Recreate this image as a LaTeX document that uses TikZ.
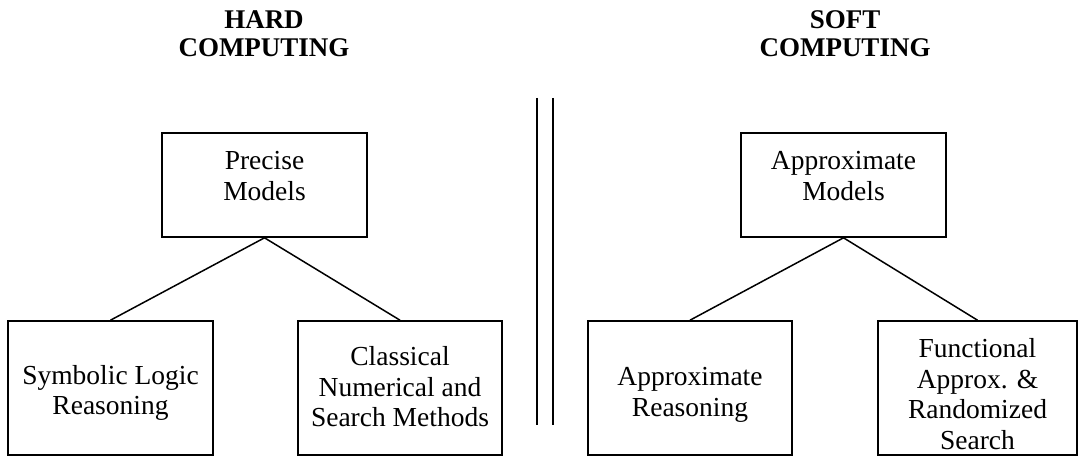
\documentclass[tikz,border=0pt]{standalone}
\usepackage{fontspec}
\setmainfont{Liberation Serif}
\begin{document}
\begin{tikzpicture}[x=1pt,y=-1pt,
  box/.style={draw, line width=1.6pt, inner sep=0pt, minimum width=#1},
  box/.default=205pt,
  txt/.style={align=center, inner sep=0pt, font=\fontsize{27.5}{30.5}\selectfont},
  ttl/.style={align=center, inner sep=0pt, font=\fontsize{27}{28}\selectfont\bfseries},
  link/.style={line width=1.5pt},
  sep/.style={line width=1.5pt}]
\useasboundingbox (0,0) rectangle (1078,457);
% titles
\node[ttl] (hard) at (264,34) {HARD\\COMPUTING};
\node[ttl] (soft) at (845,34) {SOFT\\COMPUTING};
% separator
\coordinate (s1t) at (537,98); \coordinate (s1b) at (537,425);
\coordinate (s2t) at (553,98); \coordinate (s2b) at (553,425);
\draw[sep] (s1t) -- (s1b);
\draw[sep] (s2t) -- (s2b);
% top boxes
\node[box, minimum height=104pt] (pm) at (264.5,185) {};
\node[txt, yshift=9pt] (pmt) at (pm.center) {Precise\\Models};
\node[box, minimum height=104pt] (am) at (843.5,185) {};
\node[txt, yshift=9pt] (amt) at (am.center) {Approximate\\Models};
% bottom boxes
\node[box, minimum height=134pt] (sl) at (110.5,388) {};
\node[txt, yshift=-5pt] (slt) at (sl.center) {Symbolic Logic\\Reasoning};
\node[box=204pt, minimum height=134pt] (cn) at (400,388) {};
\node[txt, yshift=1pt] (cnt) at (cn.center) {Classical\\Numerical and\\Search Methods};
\node[box=204pt, minimum height=134pt] (ar) at (690,388) {};
\node[txt, yshift=-7pt] (art) at (ar.center) {Approximate\\Reasoning};
\node[box=199pt, minimum height=134pt] (fa) at (977.5,388) {};
\node[txt, yshift=-6pt] (fat) at (fa.center) {Functional\\Approx. \&\\Randomized\\Search};
% connectors
\draw[link] (pm.south) -- (sl.north);
\draw[link] (pm.south) -- (cn.north);
\draw[link] (am.south) -- (ar.north);
\draw[link] (am.south) -- (fa.north);
\end{tikzpicture}
\end{document}
